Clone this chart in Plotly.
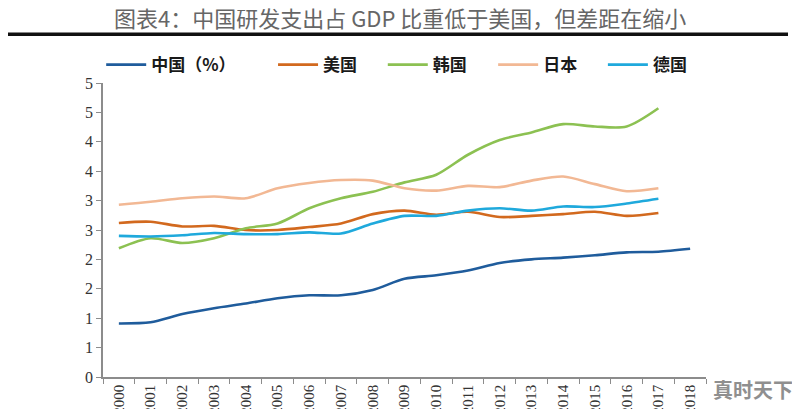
import plotly.graph_objects as go

years = [str(y) for y in range(2000, 2019)]
china = [0.91, 0.93, 1.07, 1.17, 1.25, 1.34, 1.39, 1.39, 1.48, 1.67, 1.73, 1.81, 1.94, 2.00, 2.03, 2.07, 2.12, 2.13, 2.18]
usa = [2.62, 2.64, 2.56, 2.57, 2.50, 2.50, 2.55, 2.61, 2.77, 2.83, 2.76, 2.81, 2.72, 2.74, 2.77, 2.81, 2.74, 2.79]
korea = [2.19, 2.36, 2.28, 2.36, 2.53, 2.61, 2.87, 3.04, 3.15, 3.31, 3.44, 3.78, 4.03, 4.16, 4.30, 4.26, 4.26, 4.57]
japan = [2.93, 2.98, 3.04, 3.07, 3.04, 3.21, 3.30, 3.35, 3.34, 3.21, 3.17, 3.25, 3.23, 3.34, 3.41, 3.28, 3.16, 3.21]
germany = [2.40, 2.39, 2.41, 2.45, 2.43, 2.43, 2.46, 2.44, 2.61, 2.74, 2.74, 2.83, 2.87, 2.83, 2.90, 2.89, 2.95, 3.03]

ytickvals = [0, 0.5, 1, 1.5, 2, 2.5, 3, 3.5, 4, 4.5, 5]
yticktext = ["0", "1", "1", "2", "2", "3", "3", "4", "4", "5", "5"]

series = [
    ("中国（%）", china, "#1f5c9c"),
    ("美国", usa, "#d2691e"),
    ("韩国", korea, "#8cc152"),
    ("日本", japan, "#f2b894"),
    ("德国", germany, "#1fa9dc"),
]
legend_ids = ["legend", "legend2", "legend3", "legend4", "legend5"]
legend_x = [-0.003, 0.282, 0.464, 0.647, 0.829]

fig = go.Figure()
for (name, vals, color), lid in zip(series, legend_ids):
    fig.add_trace(go.Scatter(
        x=years[:len(vals)], y=vals, name=name, mode="lines", legend=lid,
        line=dict(color=color, width=2.6, shape="spline", smoothing=0.8),
    ))

legend_style = dict(orientation="h", yanchor="middle", xanchor="left", y=1.061,
                    font=dict(family="Noto Sans CJK SC", size=17, color="#1a1a1a", weight="bold"),
                    itemwidth=40, bgcolor="rgba(0,0,0,0)")
legend_layout = {lid: dict(legend_style, x=lx) for lid, lx in zip(legend_ids, legend_x)}

fig.update_layout(
    width=800, height=409,
    margin=dict(l=95, r=102, t=75, b=40),
    paper_bgcolor="white", plot_bgcolor="white",
    showlegend=True,
    **legend_layout,
    xaxis=dict(type="category", categoryorder="array", categoryarray=years,
               range=[-0.5, 18.5], showline=True, linecolor="#8c8c8c", linewidth=1.5,
               ticks="outside", ticklen=5, tickcolor="#8c8c8c", tickson="boundaries",
               tickangle=-90, showgrid=False, automargin=False,
               tickfont=dict(family="Liberation Serif", size=15, color="#333")),
    yaxis=dict(range=[0, 5], tickvals=ytickvals, ticktext=yticktext,
               showline=True, linecolor="#8c8c8c", linewidth=1.5,
               ticks="outside", ticklen=5, tickcolor="#8c8c8c", showgrid=False,
               zeroline=False, automargin=False,
               tickfont=dict(family="Liberation Serif", size=16, color="#333")),
    annotations=[
        dict(text="图表4：中国研发支出占 GDP 比重低于美国，但差距在缩小", xref="paper", yref="paper",
             x=0.4925, y=1.226, xanchor="center", yanchor="middle", showarrow=False,
             font=dict(family="Noto Sans CJK SC", size=22, color="#666")),
        dict(text="<b>真时天下</b>", xref="paper", yref="paper",
             x=1.078, y=-0.041, xanchor="center", yanchor="middle", showarrow=False,
             font=dict(family="Noto Sans CJK SC", size=20, color="#8f8f8f")),
    ],
    shapes=[
        dict(type="line", xref="paper", yref="paper", x0=-0.161, x1=1.136, y0=1.1656, y1=1.1656,
             line=dict(color="#111", width=3.5)),
    ],
)

fig.write_html("out.html")
